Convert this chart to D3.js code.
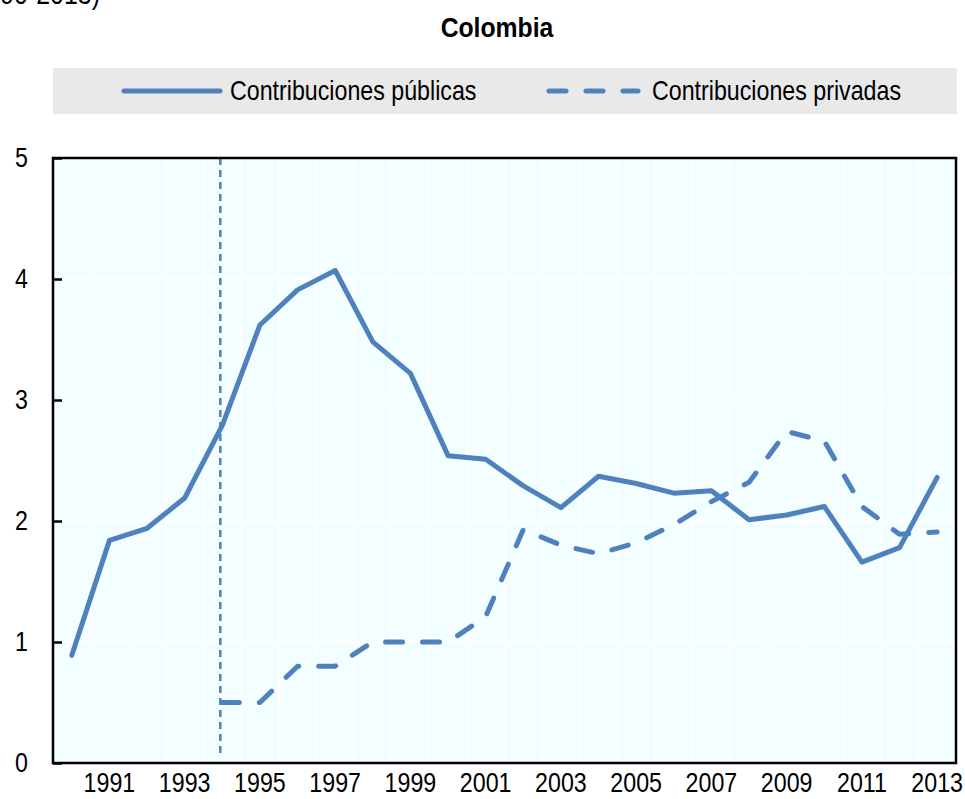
<!DOCTYPE html>
<html><head><meta charset="utf-8">
<script src="https://cdn.jsdelivr.net/npm/d3@7"></script>
<style>body{margin:0;background:#fff}svg{display:block}</style>
</head><body>
<svg id="c" width="965" height="799"></svg>
<script>
const years = d3.range(1990, 2014);
const publicas = [0.89,1.84,1.94,2.19,2.79,3.62,3.91,4.07,3.48,3.22,2.54,2.51,2.29,2.11,2.37,2.31,2.23,2.25,2.01,2.05,2.12,1.66,1.78,2.36];
const privadas = [null,null,null,null,0.50,0.50,0.80,0.80,1.00,1.00,1.00,1.21,1.93,1.80,1.73,1.82,1.97,2.16,2.32,2.74,2.66,2.12,1.89,1.91];
const yTicks = [0,1,2,3,4,5];
const xTickYears = [1991,1993,1995,1997,1999,2001,2003,2005,2007,2009,2011,2013];
const seriesNames = ["Contribuciones públicas","Contribuciones privadas"];
const title = "Colombia";
const subtitle = "(% del PIB, 1990-2013)";
const markerYear = 1994;

const FONT = "'Liberation Sans Narrow','Arial Narrow','Liberation Sans',Arial,sans-serif";
const SX = 0.86; // horizontal condensing to imitate a narrow face
const FS = 27;
const color = "#4f81bd";
const svg = d3.select("#c");
const L=53, R=956, T=158, B=763;

const x = d3.scaleBand().domain(years).range([L,R]);
const cx = d => x(d)+x.bandwidth()/2;
const y = d3.scaleLinear().domain([0,5]).range([B,T]);

function ctext(px, py, str, anchor, size, weight, sx){
  const g = svg.append("g").attr("transform",`translate(${px},${py})`);
  return g.append("text").attr("transform",`scale(${sx||SX},1)`).attr("text-anchor",anchor||"start")
    .style("font-family",FONT).style("font-size",(size||FS)+"px").style("font-weight",weight||"normal")
    .attr("fill","#000").text(str);
}

// cut-off subtitle (reference shows only its lower part)
ctext(100, 4, subtitle, "end", 29);

ctext(497, 37, title, "middle", 27.5, "bold", 0.9);

// legend
svg.append("rect").attr("x",L).attr("y",68).attr("width",R-L+1).attr("height",46).attr("fill","#e9e9e9");
const lg = [{x1:124,x2:220,tx:230,dash:null},{x1:549,x2:638,tx:652,dash:"17,20"}];
lg.forEach((l,i)=>{
  svg.append("line").attr("x1",l.x1).attr("x2",l.x2).attr("y1",91).attr("y2",91)
    .attr("stroke",color).attr("stroke-width",5).attr("stroke-linecap","round")
    .attr("stroke-dasharray",l.dash);
  ctext(l.tx, 100, seriesNames[i], "start", FS);
});

// plot bg
svg.append("rect").attr("x",L).attr("y",T).attr("width",R-L).attr("height",B-T).attr("fill","#f2feff");
// grid
svg.append("g").selectAll("line").data(years.slice(1)).join("line")
  .attr("x1",d=>x(d)).attr("x2",d=>x(d)).attr("y1",T).attr("y2",B)
  .attr("stroke","#fff").attr("stroke-width",2);
svg.append("g").selectAll("line").data(yTicks.slice(1,-1)).join("line")
  .attr("x1",L).attr("x2",R).attr("y1",d=>y(d)).attr("y2",d=>y(d))
  .attr("stroke","#fff").attr("stroke-width",2);

// marker vertical dashed
svg.append("line").attr("x1",cx(markerYear)-2).attr("x2",cx(markerYear)-2).attr("y1",T).attr("y2",B-10)
  .attr("stroke",color).attr("stroke-width",2.5).attr("stroke-dasharray","7,5");

// lines
const line = d3.line().defined(d=>d[1]!=null).x(d=>cx(d[0])).y(d=>y(d[1]));
svg.append("path").datum(years.map((yr,i)=>[yr,publicas[i]])).attr("d",line)
  .attr("fill","none").attr("stroke",color).attr("stroke-width",5).attr("stroke-linejoin","round").attr("stroke-linecap","round");
svg.append("path").datum(years.map((yr,i)=>[yr,privadas[i]])).attr("d",line)
  .attr("fill","none").attr("stroke",color).attr("stroke-width",5).attr("stroke-linejoin","round").attr("stroke-linecap","round")
  .attr("stroke-dasharray","17,20");

// frame
svg.append("rect").attr("x",L).attr("y",T).attr("width",R-L).attr("height",B-T)
  .attr("fill","none").attr("stroke","#000").attr("stroke-width",2.5);

// y axis ticks & labels
const yAxis = d3.axisRight(y).tickValues(yTicks).tickSize(9).tickFormat("");
svg.append("g").attr("transform",`translate(${L},0)`).call(yAxis)
  .call(g=>{g.select(".domain").remove(); g.selectAll("line").attr("stroke","#000").attr("stroke-width",2.5);});
yTicks.forEach(d=>ctext(28, y(d)+9, String(d), "end", FS));

// x labels
const xAxis = d3.axisBottom(x).tickValues(xTickYears).tickSize(0).tickPadding(10);
svg.append("g").attr("transform",`translate(0,${B})`).call(xAxis)
  .call(g=>{g.select(".domain").remove();
    g.selectAll("text").attr("transform",`scale(${SX},1)`).style("font-family",FONT).style("font-size",FS+"px").attr("fill","#000");});
</script>
</body></html>
